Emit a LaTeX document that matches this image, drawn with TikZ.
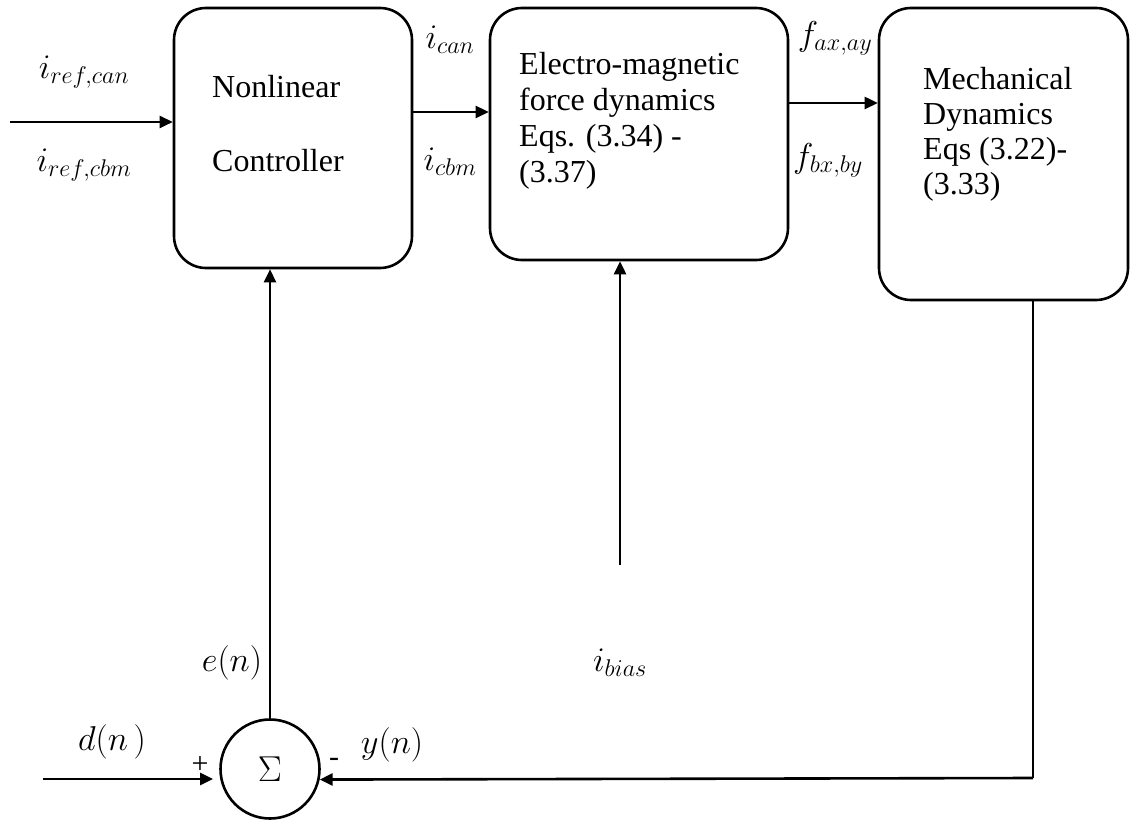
\RequirePackage{fix-cm}
\documentclass[tikz,border=0pt]{standalone}
\usepackage{fontspec}
\setmainfont{Liberation Serif}
\usetikzlibrary{arrows.meta}
\begin{document}
\begin{tikzpicture}[x=1pt,y=-1pt,
  every node/.style={font=\fontsize{32}{36}\selectfont, inner sep=0pt},
  blk/.style={draw, line width=2.6pt, rounded corners=32pt},
  sumnode/.style={draw, circle, line width=2.6pt, minimum size=99pt},
  txt/.style={anchor=base west},
  lbl/.style={anchor=center, font=\fontsize{34.5}{38}\selectfont},
  conn/.style={line width=2.6pt},
  arr/.style={line width=2.6pt, -{Triangle[length=13pt,width=12pt]}}]
\useasboundingbox (0,0) rectangle (1138,821);

% blocks
\node[blk, minimum width=238pt, minimum height=260pt] (ctrl) at (293,138) {};
\node[blk, minimum width=298pt, minimum height=252pt] (em) at (639,134) {};
\node[blk, minimum width=249pt, minimum height=292pt] (mech) at (1003.5,154) {};
\node[sumnode, font=\fontsize{36}{40}\selectfont] (sum) at (270,769) {$\Sigma$};

% block texts
\node[txt] (t1a) at (212,98) {Nonlinear};
\node[txt] (t1b) at (212,172) {Controller};
\node[txt] (t2a) at (519,75) {Electro-magnetic};
\node[txt] (t2b) at (519,111) {force dynamics};
\node[txt] (t2c) at (519,147) {Eqs. (3.34) -};
\node[txt] (t2d) at (519,183) {(3.37)};
\node[txt] (t3a) at (923,90) {Mechanical};
\node[txt] (t3b) at (923,125) {Dynamics};
\node[txt] (t3c) at (923,160) {Eqs (3.22)-};
\node[txt] (t3d) at (923,195) {(3.33)};

% labels
\node[lbl] (l1) at (84,72) {$i_{ref,can}$};
\node[lbl] (l2) at (84,165) {$i_{ref,cbm}$};
\node[lbl] (l3) at (450,40) {$i_{can}$};
\node[lbl] (l4) at (450,162) {$i_{cbm}$};
\node[lbl] (l5) at (835,38) {$f_{ax,ay}$};
\node[lbl] (l6) at (828,160) {$f_{bx,by}$};
\node[lbl] (l7) at (232,663) {$e(n)$};
\node[lbl] (l8) at (620,663) {$i_{bias}$};
\node[lbl] (l9) at (112,742) {$d(n\,)$};
\node[lbl] (l10) at (392,745) {$y(n)$};
\node[lbl, font=\fontsize{30}{32}\selectfont] (pl) at (200,765) {+};
\node[lbl, font=\fontsize{30}{32}\selectfont] (mi) at (334,762) {-};

% helper coordinates
\coordinate (in) at (10,122);
\coordinate (ya) at (0,112);
\coordinate (yb) at (0,103);
\coordinate (ib) at (620,565);
\coordinate (din) at (43,779);
\coordinate (dtip) at (213,779);
\coordinate (fb) at (1033,778);

% connectors
\draw[arr] (in) -- (in -| ctrl.west);
\draw[arr] (ctrl.east |- ya) -- (em.west |- ya);
\draw[arr] (em.east |- yb) -- (mech.west |- yb);
\draw[arr] (ib) -- (ib |- em.south);
\draw[arr] (sum.north) -- (sum.north |- ctrl.south);
\draw[arr] (din) -- (dtip);
\draw[conn] (fb |- mech.south) -- (fb);
\draw[arr] (fb) -- (sum.-12);
\end{tikzpicture}
\end{document}
